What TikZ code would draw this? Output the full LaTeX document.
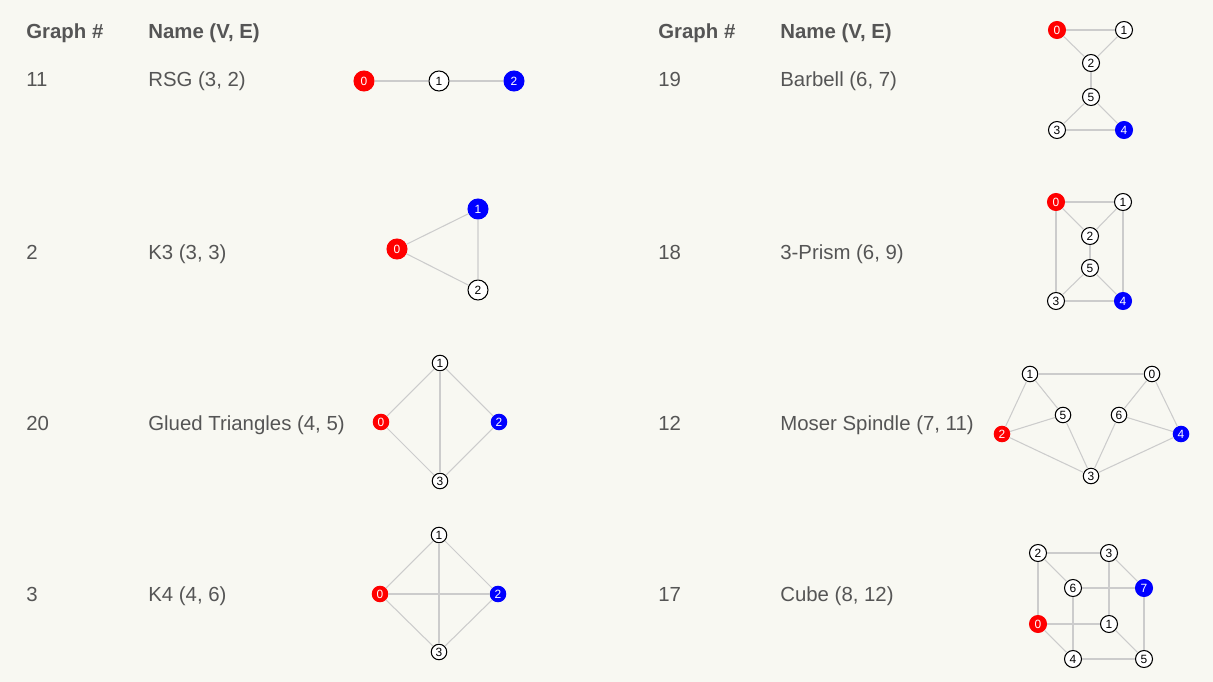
\documentclass[tikz,border=0pt]{standalone}
\usepackage{fontspec}
\setmainfont{Liberation Sans}
\usetikzlibrary{positioning}
\definecolor{pageBg}{HTML}{F8F8F2}
\definecolor{textGray}{HTML}{555555}
\definecolor{edgeGray}{HTML}{CCCCCC}
\definecolor{srcRed}{HTML}{FF0000}
\definecolor{dstBlue}{HTML}{0000FF}

\begin{document}
\begin{tikzpicture}[x=0.02cm, y=-0.02cm,
    head/.style={anchor=base west, inner sep=0pt, text=textGray,
      font=\fontsize{11.6}{13}\selectfont\bfseries},
    cell/.style={anchor=base west, inner sep=0pt, text=textGray,
      font=\fontsize{11.6}{13}\selectfont},
    vtx/.style={circle, draw=black, line width=0.6pt, fill=white,
      inner sep=0pt, minimum size=0.34cm, text=black,
      font=\fontsize{6.8}{7}\selectfont},
    big/.style={minimum size=0.4cm},
    small/.style={minimum size=0.31cm},
    src/.style={fill=srcRed, draw=srcRed, text=white},
    dst/.style={fill=dstBlue, draw=dstBlue, text=white},
    edge/.style={draw=edgeGray, line width=0.6pt}
  ]
  \useasboundingbox[fill=pageBg] (0,0) rectangle (1213,682);

  % table text
  \node[head] (hNumL)  at (26,39)  {Graph \#};
  \node[head] (hNameL) at (148,39) {Name (V, E)};
  \node[head] (hNumR)  at (658,39) {Graph \#};
  \node[head] (hNameR) at (780,39) {Name (V, E)};

  \node[cell] (n11) at (26,87)  {11};
  \node[cell] (t11) at (148,87) {RSG (3, 2)};
  \node[cell] (n2)  at (26,259)  {2};
  \node[cell] (t2)  at (148,259) {K3 (3, 3)};
  \node[cell] (n20) at (26,430)  {20};
  \node[cell] (t20) at (148,430) {Glued Triangles (4, 5)};
  \node[cell] (n3)  at (26,601)  {3};
  \node[cell] (t3)  at (148,601) {K4 (4, 6)};

  \node[cell] (n19) at (658,87)  {19};
  \node[cell] (t19) at (780,87)  {Barbell (6, 7)};
  \node[cell] (n18) at (658,259) {18};
  \node[cell] (t18) at (780,259) {3-Prism (6, 9)};
  \node[cell] (n12) at (658,430) {12};
  \node[cell] (t12) at (780,430) {Moser Spindle (7, 11)};
  \node[cell] (n17) at (658,601) {17};
  \node[cell] (t17) at (780,601) {Cube (8, 12)};

  % RSG
  \node[vtx, big, src] (rsg0) at (364,81) {0};
  \node[vtx, big]      (rsg1) at (439,81) {1};
  \node[vtx, big, dst] (rsg2) at (514,81) {2};
  \draw[edge] (rsg0) -- (rsg1) (rsg1) -- (rsg2);

  % K3
  \node[vtx, big, src] (kt0) at (397,249) {0};
  \node[vtx, big, dst] (kt1) at (478,209) {1};
  \node[vtx, big]      (kt2) at (478,290) {2};
  \draw[edge] (kt0) -- (kt1) (kt1) -- (kt2) (kt0) -- (kt2);

  % glued triangles
  \node[vtx, small, src] (gt0) at (381,422) {0};
  \node[vtx, small]      (gt1) at (440,363) {1};
  \node[vtx, small, dst] (gt2) at (499,422) {2};
  \node[vtx, small]      (gt3) at (440,481) {3};
  \foreach \a/\b in {0/1, 1/2, 1/3, 0/3, 2/3}
    \draw[edge] (gt\a) -- (gt\b);

  % K4
  \node[vtx, small, src] (kf0) at (380,594) {0};
  \node[vtx, small]      (kf1) at (439,535) {1};
  \node[vtx, small, dst] (kf2) at (498,594) {2};
  \node[vtx, small]      (kf3) at (439,652) {3};
  \foreach \a/\b in {0/1, 1/2, 1/3, 0/3, 2/3, 0/2}
    \draw[edge] (kf\a) -- (kf\b);

  % barbell
  \node[vtx, src] (bb0) at (1057,30)  {0};
  \node[vtx]      (bb1) at (1124,30)  {1};
  \node[vtx]      (bb2) at (1091,63)  {2};
  \node[vtx]      (bb5) at (1091,97)  {5};
  \node[vtx]      (bb3) at (1057,130) {3};
  \node[vtx, dst] (bb4) at (1124,130) {4};
  \foreach \a/\b in {0/1, 0/2, 1/2, 2/5, 5/3, 5/4, 3/4}
    \draw[edge] (bb\a) -- (bb\b);

  % 3-prism
  \node[vtx, src] (pr0) at (1056,202) {0};
  \node[vtx]      (pr1) at (1123,202) {1};
  \node[vtx]      (pr2) at (1090,236) {2};
  \node[vtx]      (pr5) at (1090,268) {5};
  \node[vtx]      (pr3) at (1056,301) {3};
  \node[vtx, dst] (pr4) at (1123,301) {4};
  \foreach \a/\b in {0/1, 0/2, 1/2, 2/5, 5/3, 5/4, 3/4, 0/3, 1/4}
    \draw[edge] (pr\a) -- (pr\b);

  % moser spindle
  \node[vtx, small]      (ms1) at (1030,374) {1};
  \node[vtx, small]      (ms0) at (1152,374) {0};
  \node[vtx, small]      (ms5) at (1063,415) {5};
  \node[vtx, small]      (ms6) at (1119,415) {6};
  \node[vtx, small, src] (ms2) at (1002,434) {2};
  \node[vtx, small, dst] (ms4) at (1181,434) {4};
  \node[vtx, small]      (ms3) at (1091,476) {3};
  \foreach \a/\b in {1/0, 1/2, 1/5, 2/5, 2/3, 5/3, 0/6, 0/4, 6/4, 6/3, 3/4}
    \draw[edge] (ms\a) -- (ms\b);

  % cube
  \node[vtx]      (cb2) at (1038,553) {2};
  \node[vtx]      (cb3) at (1109,553) {3};
  \node[vtx]      (cb6) at (1073,588) {6};
  \node[vtx, dst] (cb7) at (1144,588) {7};
  \node[vtx, src] (cb0) at (1038,624) {0};
  \node[vtx]      (cb1) at (1109,624) {1};
  \node[vtx]      (cb4) at (1073,659) {4};
  \node[vtx]      (cb5) at (1144,659) {5};
  \foreach \a/\b in {2/3, 2/6, 2/0, 3/7, 3/1, 6/7, 6/4, 7/5, 0/1, 0/4, 1/5, 4/5}
    \draw[edge] (cb\a) -- (cb\b);
\end{tikzpicture}
\end{document}
